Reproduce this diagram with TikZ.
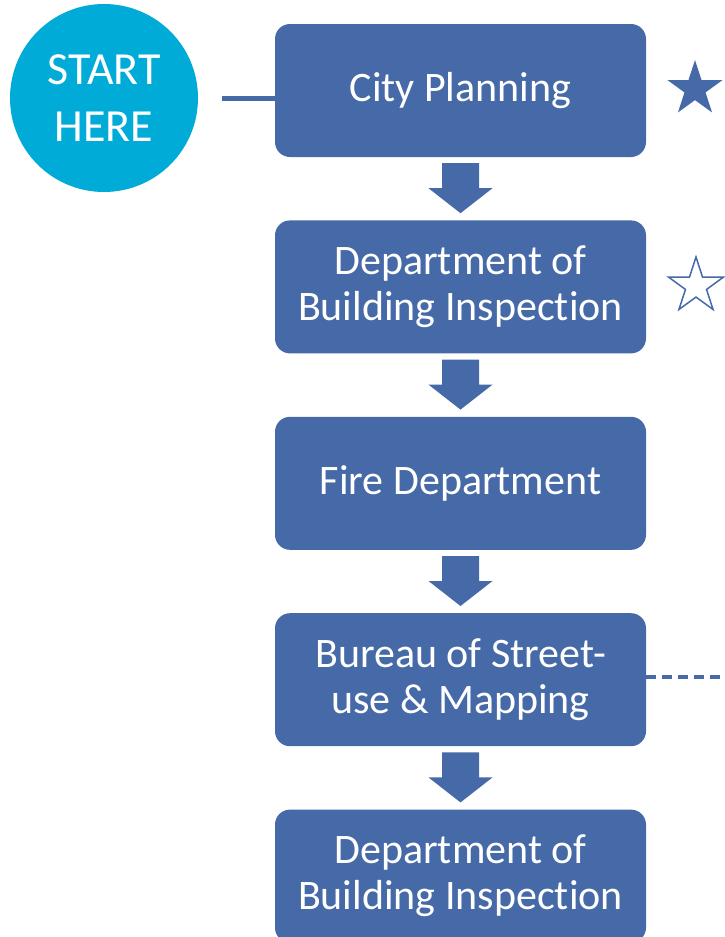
\documentclass[tikz,border=0pt]{standalone}
\usepackage{fontspec}
\setmainfont[Ligatures=NoCommon]{Carlito}
\usetikzlibrary{positioning,calc,shapes.geometric}
\definecolor{deptblue}{HTML}{4669A7}
\definecolor{startcyan}{HTML}{00ABD8}
\tikzset{
  dept/.style={fill=deptblue, rounded corners=15pt, minimum width=371pt,
    minimum height=133pt, text=white, align=center, inner sep=0pt,
    font=\fontsize{42}{46}\selectfont},
  startdot/.style={circle, fill=startcyan, minimum size=188pt, inner sep=0pt,
    text=white, align=center, font=\fontsize{46}{57}\selectfont},
  mark star/.style={star, star points=5, star point ratio=2.618,
    minimum size=58pt, inner sep=0pt},
  flowarrow/.style={fill=deptblue}
}
\begin{document}
\begin{tikzpicture}[x=1pt, y=-1pt]
\useasboundingbox (0,0) rectangle (725,937);

% Bureaux, de haut en bas
\node[dept] (plan) at (460.5,90.5) {City Planning};
\node[dept, below=63pt of plan] (dbi) {Department of\\Building Inspection};
\node[dept, below=63pt of dbi] (fire) {Fire Department};
\node[dept, below=63pt of fire] (bsm) {Bureau of Street-\\use \& Mapping};
\node[dept, below=63pt of bsm] (dbi2) {Department of\\Building Inspection};

% Point de depart
\node[startdot] (start) at (104,98) {START\\HERE};
\draw[deptblue, line width=5pt, shorten <=24pt] (start.east) -- (start.east -| plan.west);

% Fleches pleines entre les bureaux
\foreach \a/\b in {plan/dbi, dbi/fire, fire/bsm, bsm/dbi2} {
  \fill[flowarrow] ($(\a.south)+(-18.5,6)$) -- ++(37,0) -- ++(0,25)
    -- ++(13.5,0) -- ($(\b.north)+(0,-7)$) -- ($(\a.south)+(-32,31)$)
    -- ++(13.5,0) -- cycle;
}

% Etoiles
\node[mark star, fill=deptblue] (star1) at (695,89) {};
\node[mark star, draw=deptblue, line width=1.5pt, fill=white] (star2) at (696,286) {};

% Suite hors cadre
\coordinate (offpage) at (725,677);
\draw[deptblue, line width=4pt, dash pattern=on 10pt off 6pt] (bsm.east |- offpage) -- (offpage);
\end{tikzpicture}
\end{document}
